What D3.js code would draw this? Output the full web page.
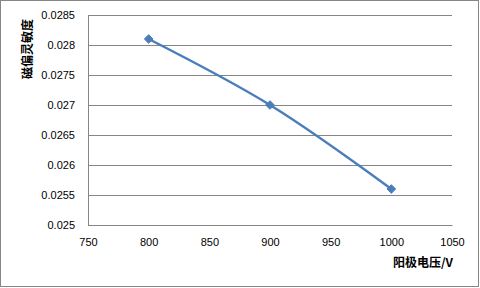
<!DOCTYPE html>
<html>
<head>
<meta charset="utf-8">
<script src="https://cdn.jsdelivr.net/npm/d3@7"></script>
<style>
  body { margin: 0; background: #fff; }
  svg { display: block; }
</style>
</head>
<body>
<div id="chart"></div>
<script>
// data
const voltages = [800, 900, 1000];
const sensitivity = [0.0281, 0.0270, 0.0256];
const xTicks = [750, 800, 850, 900, 950, 1000, 1050];
const yTicks = [0.025, 0.0255, 0.026, 0.0265, 0.027, 0.0275, 0.028, 0.0285];
const xTitle = "阳极电压/V";
const yTitle = "磁偏灵敏度";

const W = 480, H = 288;
const margin = { top: 15, right: 28, bottom: 63, left: 88 };
const width = W - margin.left - margin.right;
const height = H - margin.top - margin.bottom;

const svg = d3.select("#chart").append("svg")
    .attr("width", W)
    .attr("height", H);

// outer chart border
svg.append("rect")
    .attr("x", 0.5).attr("y", 0.5)
    .attr("width", W - 2).attr("height", H - 2)
    .attr("fill", "#fff")
    .attr("stroke", "#868686");

const g = svg.append("g")
    .attr("transform", `translate(${margin.left},${margin.top})`);

const x = d3.scaleLinear().domain([750, 1050]).range([0, width]);
const y = d3.scaleLinear().domain([0.025, 0.0285]).range([height, 0]);

// horizontal gridlines
g.append("g")
    .selectAll("line")
    .data(yTicks)
    .join("line")
    .attr("x1", 0).attr("x2", width)
    .attr("y1", d => Math.round(y(d)) + 0.5)
    .attr("y2", d => Math.round(y(d)) + 0.5)
    .attr("stroke", "#868686");

// axes
const font = "Liberation Sans, Arial, sans-serif";
const xAxis = g.append("g")
    .attr("transform", `translate(0,${height})`)
    .call(d3.axisBottom(x).tickValues(xTicks).tickSize(0).tickPadding(13).tickFormat(d3.format("d")));
xAxis.select(".domain").attr("stroke", "#868686");
xAxis.selectAll("text").attr("font-family", font).attr("font-size", 11).attr("fill", "#000");

const yAxis = g.append("g")
    .call(d3.axisLeft(y).tickValues(yTicks).tickSize(0).tickPadding(13).tickFormat(d => String(+d.toFixed(4))));
yAxis.select(".domain").attr("stroke", "#868686");
yAxis.selectAll("text").attr("font-family", font).attr("font-size", 11).attr("fill", "#000");

// series
const pts = voltages.map((v, i) => [v, sensitivity[i]]);
const line = d3.line()
    .x(d => x(d[0]))
    .y(d => y(d[1]))
    .curve(d3.curveCatmullRom.alpha(0.5));

g.append("path")
    .datum(pts)
    .attr("fill", "none")
    .attr("stroke", "#4a7ebb")
    .attr("stroke-width", 2.5)
    .attr("d", line);

g.selectAll(".marker")
    .data(pts)
    .join("path")
    .attr("class", "marker")
    .attr("transform", d => `translate(${x(d[0])},${y(d[1])})`)
    .attr("d", d3.symbol(d3.symbolDiamond2, 48))
    .attr("fill", "#4a7ebb")
    .attr("stroke", "#4a7ebb");

// axis titles
svg.append("text")
    .attr("x", margin.left + width + 1)
    .attr("y", 267)
    .attr("text-anchor", "end")
    .attr("font-family", "Noto Sans CJK SC, sans-serif")
    .attr("font-size", 12)
    .attr("font-weight", "bold")
    .text(xTitle);

svg.append("text")
    .attr("transform", `translate(32,${margin.top + 34}) rotate(-90)`)
    .attr("text-anchor", "middle")
    .attr("font-family", "Noto Sans CJK SC, sans-serif")
    .attr("font-size", 12)
    .attr("font-weight", "bold")
    .text(yTitle);
</script>
</body>
</html>
